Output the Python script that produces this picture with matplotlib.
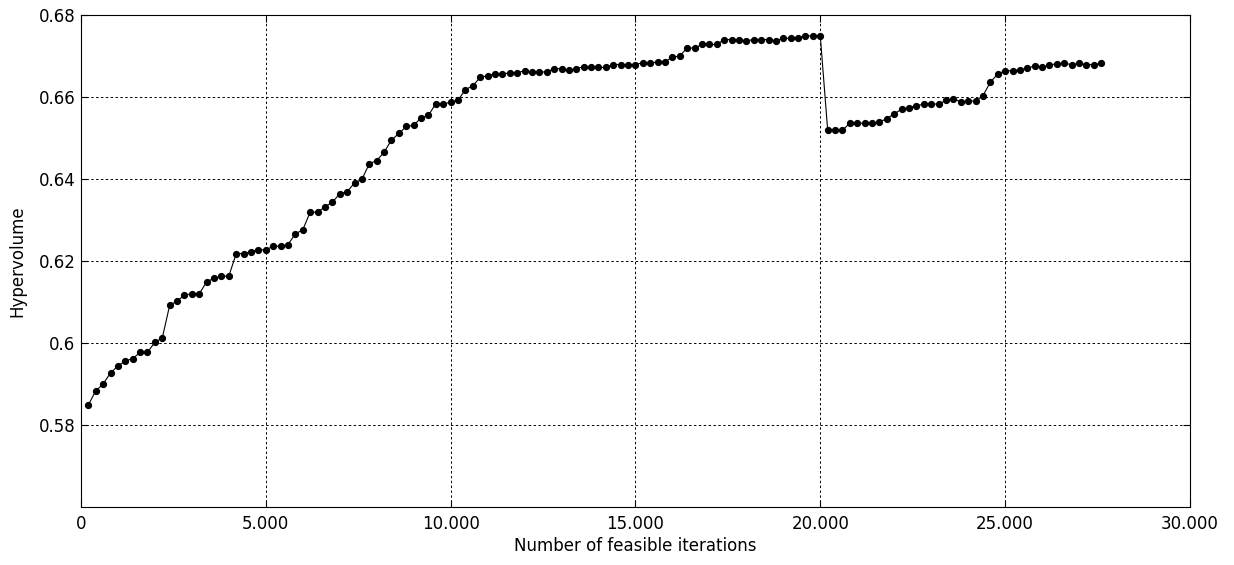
import numpy as np
import matplotlib
matplotlib.use("Agg")
import matplotlib.pyplot as plt
from matplotlib.ticker import FuncFormatter

# Hypervolume after every 200 feasible iterations
iterations = np.arange(200, 27601, 200)
hypervolume = [
    0.5849, 0.5883, 0.5900, 0.5927, 0.5944, 0.5956, 0.5962, 0.5977, 0.5977, 0.6002,
    0.6012, 0.6092, 0.6102, 0.6117, 0.6120, 0.6120, 0.6149, 0.6158, 0.6163, 0.6163,
    0.6218, 0.6218, 0.6223, 0.6227, 0.6227, 0.6236, 0.6236, 0.6240, 0.6266, 0.6276,
    0.6319, 0.6319, 0.6332, 0.6343, 0.6364, 0.6369, 0.6390, 0.6399, 0.6437, 0.6445,
    0.6465, 0.6495, 0.6511, 0.6528, 0.6531, 0.6549, 0.6555, 0.6584, 0.6582, 0.6588,
    0.6592, 0.6618, 0.6627, 0.6648, 0.6652, 0.6656, 0.6656, 0.6659, 0.6659, 0.6664,
    0.6661, 0.6661, 0.6661, 0.6669, 0.6669, 0.6665, 0.6669, 0.6674, 0.6672, 0.6672,
    0.6672, 0.6679, 0.6679, 0.6679, 0.6679, 0.6684, 0.6682, 0.6686, 0.6686, 0.6697,
    0.6700, 0.6720, 0.6719, 0.6728, 0.6728, 0.6728, 0.6740, 0.6740, 0.6740, 0.6737,
    0.6740, 0.6740, 0.6740, 0.6737, 0.6743, 0.6743, 0.6745, 0.6749, 0.6749, 0.6749,
    0.6519, 0.6519, 0.6519, 0.6536, 0.6536, 0.6536, 0.6536, 0.6539, 0.6547, 0.6559,
    0.6570, 0.6574, 0.6579, 0.6582, 0.6584, 0.6582, 0.6592, 0.6596, 0.6588, 0.6590,
    0.6590, 0.6603, 0.6636, 0.6656, 0.6664, 0.6664, 0.6666, 0.6670, 0.6676, 0.6672,
    0.6678, 0.6681, 0.6682, 0.6679, 0.6682, 0.6679, 0.6679, 0.6682,
]

x_ticks = [0, 5000, 10000, 15000, 20000, 25000, 30000]
y_ticks = [0.58, 0.60, 0.62, 0.64, 0.66, 0.68]

plt.rcParams['font.family'] = ['DejaVu Sans']

fig = plt.figure(figsize=(12.34, 5.65), dpi=100)
ax = fig.add_axes([0.0656, 0.1027, 0.8987, 0.8708])

ax.plot(iterations, hypervolume, color='black', linewidth=0.8,
        marker='o', markersize=4.2, markerfacecolor='black', markeredgecolor='black')

ax.set_xlim(0, 30000)
ax.set_ylim(0.56, 0.68)
ax.set_xticks(x_ticks)
ax.set_yticks(y_ticks)
ax.xaxis.set_major_formatter(FuncFormatter(lambda v, p: f"{int(v):,}".replace(",", ".")))
ax.yaxis.set_major_formatter(FuncFormatter(lambda v, p: f"{v:g}"))

ax.grid(True, color='black', linestyle=(0, (2.5, 2.5)), linewidth=0.7)
ax.tick_params(direction='in', top=True, right=True, length=5, labelsize=12)
ax.tick_params(axis='x', pad=6)
ax.tick_params(axis='y', pad=4)
for s in ax.spines.values():
    s.set_linewidth(0.8)

ax.set_xlabel('Number of feasible iterations', fontsize=12, labelpad=3)
ax.set_ylabel('Hypervolume', fontsize=12, labelpad=9)

fig.savefig('out.png', dpi=100)
